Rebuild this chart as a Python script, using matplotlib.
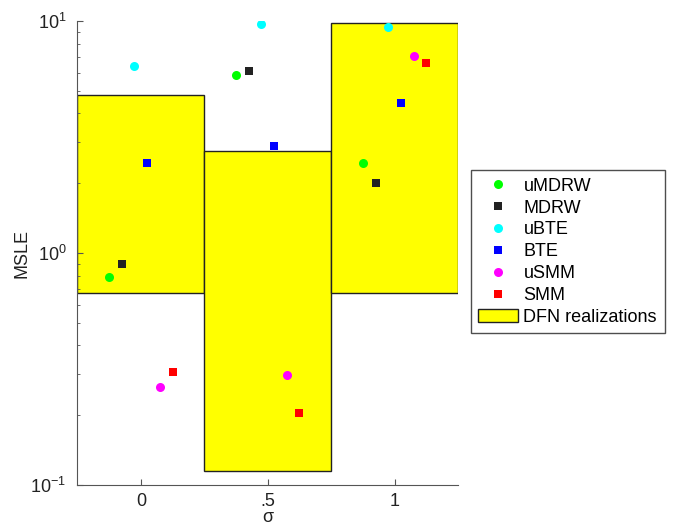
import matplotlib
matplotlib.use('Agg')
from matplotlib import pyplot as plt
from matplotlib.patches import Rectangle
from matplotlib.ticker import FixedLocator, LogLocator, NullFormatter

plt.rcParams['font.family'] = ['Liberation Sans', 'DejaVu Sans']

# sigma values and MSLE per method
sigma = [0, 0.5, 1]
offsets = [-0.125, -0.075, -0.025, 0.025, 0.075, 0.125]
methods = ['uMDRW', 'MDRW', 'uBTE', 'BTE', 'uSMM', 'SMM']
colors = ['#00ff00', '#222222', '#00ffff', '#0000ff', '#ff00ff', '#ff0000']
markers = ['o', 's', 'o', 's', 'o', 's']
umdrw = [0.785, 5.85, 2.44]
mdrw = [0.897, 6.09, 2.0]
ubte = [6.40, 9.68, 9.45]
bte = [2.45, 2.90, 4.42]
usmm = [0.264, 0.298, 7.09]
smm = [0.306, 0.204, 6.57]
values = [umdrw, mdrw, ubte, bte, usmm, smm]

# DFN realization range (min, max) per sigma
dfn_low = [0.67, 0.115, 0.67]
dfn_high = [4.80, 2.75, 9.8]

fig = plt.figure(figsize=(6.73, 5.28), dpi=100)
ax = fig.add_axes([0.115, 0.0814, 0.5655, 0.8786])

for s, lo, hi in zip(sigma, dfn_low, dfn_high):
    ax.add_patch(Rectangle((s - 0.25, lo), 0.5, hi - lo, facecolor='#ffff00',
                           edgecolor='#222222', linewidth=1.0, zorder=1))

handles = []
for off, vals, c, m, name in zip(offsets, values, colors, markers, methods):
    xs = [s + off for s in sigma]
    ms = 6.5 if m == 'o' else 5.6
    h, = ax.plot(xs, vals, linestyle='none', marker=m, color=c, markersize=ms,
                 markeredgewidth=0, label=name, zorder=3)
    handles.append(h)
handles.append(Rectangle((0, 0), 1, 1, facecolor='#ffff00', edgecolor='#222222',
                         linewidth=1.0, label='DFN realizations'))

ax.set_yscale('log')
ax.set_ylim(0.1, 10)
ax.set_xlim(-0.25, 1.25)
ax.xaxis.set_major_locator(FixedLocator([0, 0.5, 1]))
ax.set_xticklabels(['0', '.5', '1'])
ax.yaxis.set_minor_locator(LogLocator(base=10, subs=range(2, 10)))
ax.yaxis.set_minor_formatter(NullFormatter())

for side in ['top', 'right']:
    ax.spines[side].set_visible(False)
for side in ['left', 'bottom']:
    ax.spines[side].set_color('#555555')
ax.tick_params(which='both', direction='in', colors='#555555', labelcolor='#222222',
               labelsize=13)
ax.tick_params(which='major', length=4)
ax.tick_params(which='minor', length=2.5)
ax.tick_params(axis='y', which='major', pad=8)
ax.tick_params(axis='x', which='major', pad=6)
ax.set_ylabel('MSLE', fontsize=13, color='#222222', labelpad=0)
ax.set_xlabel('σ', fontsize=13, color='#222222', labelpad=-1)

leg = fig.legend(handles=handles, loc='lower left',
                 bbox_to_anchor=(0.700, 0.369, 0.288, 0.303), mode='expand',
                 fontsize=13, frameon=True, fancybox=False, borderaxespad=0,
                 handlelength=2.2, handletextpad=0.3, labelspacing=0.27,
                 borderpad=0.4)
leg.get_frame().set_edgecolor('#222222')
leg.get_frame().set_linewidth(1.0)

fig.savefig('out.png', dpi=100)
